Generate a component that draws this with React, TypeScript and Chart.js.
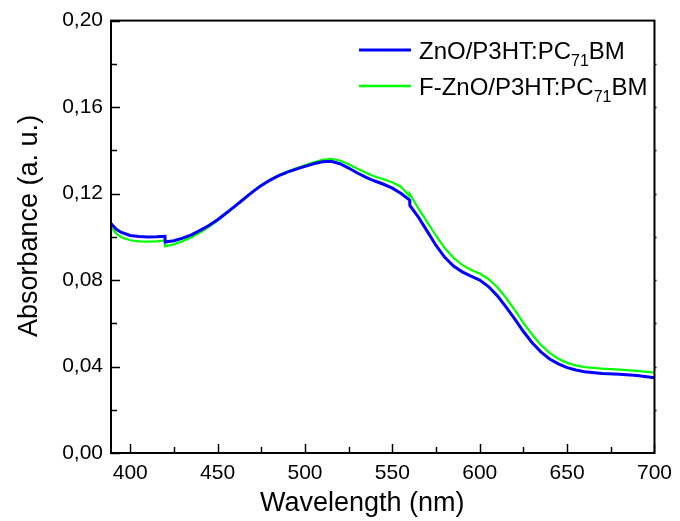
import React, { useEffect, useRef } from 'react';
import { Chart, registerables } from 'chart.js';

Chart.register(...registerables);

const wavelengths = [
  389, 392, 395, 400, 405, 410, 415, 419.9, 420, 425, 430, 435, 440, 445, 450, 455, 460, 465, 470,
  475, 480, 485, 490, 495, 500, 505, 510, 515, 520, 525, 530, 535, 540, 545, 550, 555, 559.9, 560,
  565, 570, 575, 580, 585, 590, 595, 600, 605, 610, 615, 620, 625, 630, 635, 640, 645, 650, 655,
  660, 670, 680, 690, 700,
];

const znoAbs = [
  0.1061, 0.1035, 0.102, 0.1006, 0.1001, 0.0999, 0.1, 0.1002, 0.0976, 0.0982, 0.0994, 0.1009, 0.103,
  0.1052, 0.1079, 0.111, 0.1142, 0.1175, 0.1208, 0.1237, 0.1262, 0.1283, 0.1299, 0.1313, 0.1326,
  0.1338, 0.1347, 0.1349, 0.1338, 0.1318, 0.1295, 0.1275, 0.1258, 0.1243, 0.1225, 0.12, 0.117,
  0.1145, 0.109, 0.1025, 0.096, 0.0905, 0.0865, 0.0838, 0.0818, 0.08, 0.077, 0.0728, 0.0676, 0.062,
  0.0562, 0.051, 0.0468, 0.0435, 0.0412, 0.0395, 0.0384, 0.0376, 0.0368, 0.0364, 0.0358, 0.0348,
];

const fznoAbs = [
  0.1045, 0.1015, 0.0998, 0.0984, 0.0979, 0.0978, 0.0979, 0.0983, 0.0956, 0.0965, 0.098, 0.0998,
  0.102, 0.1046, 0.1075, 0.1108, 0.1141, 0.1175, 0.1208, 0.1238, 0.1263, 0.1285, 0.1302, 0.1317,
  0.1331, 0.1345, 0.1356, 0.1361, 0.1353, 0.1336, 0.1315, 0.1296, 0.1279, 0.1266, 0.1252, 0.1232,
  0.1188, 0.1198, 0.113, 0.1068, 0.1005, 0.0948, 0.0903, 0.087, 0.0848, 0.083, 0.0805, 0.0768,
  0.0718, 0.0662, 0.0602, 0.0548, 0.05, 0.0463, 0.0436, 0.0417, 0.0405, 0.0397, 0.039, 0.0386,
  0.038, 0.0372,
];

const xTicks = [400, 450, 500, 550, 600, 650, 700];
const xMinorTicks = [425, 475, 525, 575, 625, 675];
const yTicks = [0, 0.04, 0.08, 0.12, 0.16, 0.2];
const yMinorTicks = [0.02, 0.06, 0.1, 0.14, 0.18];
const rightTicks = [0.02, 0.04, 0.06, 0.08, 0.1, 0.12, 0.14, 0.16, 0.18];

const seriesNames = ['ZnO/P3HT:PC', 'F-ZnO/P3HT:PC'];
const seriesSub = '71';
const seriesTail = 'BM';
const xTitle = 'Wavelength (nm)';
const yTitle = 'Absorbance (a. u.)';

const FONT = '"Liberation Sans", Arial, sans-serif';
const BLUE = '#0000ff';
const GREEN = '#00ff00';

const framePlugin = {
  id: 'frame',
  afterDraw(chart: any) {
    const { ctx, chartArea } = chart;
    const { left, right, top, bottom } = chartArea;
    const xs = chart.scales.x;
    const ys = chart.scales.y;
    ctx.save();
    ctx.strokeStyle = '#000';
    ctx.lineWidth = 2;
    ctx.strokeRect(left, top, right - left, bottom - top);
    ctx.lineWidth = 1.5;
    ctx.beginPath();
    xTicks.forEach((v) => {
      const px = Math.round(xs.getPixelForValue(v)) + 0.5;
      ctx.moveTo(px, bottom);
      ctx.lineTo(px, bottom - 9);
    });
    xMinorTicks.forEach((v) => {
      const px = Math.round(xs.getPixelForValue(v)) + 0.5;
      ctx.moveTo(px, bottom);
      ctx.lineTo(px, bottom - 6);
    });
    yTicks.forEach((v) => {
      const py = Math.round(ys.getPixelForValue(v)) + 0.5;
      ctx.moveTo(left, py);
      ctx.lineTo(left + 9, py);
    });
    yMinorTicks.forEach((v) => {
      const py = Math.round(ys.getPixelForValue(v)) + 0.5;
      ctx.moveTo(left, py);
      ctx.lineTo(left + 6, py);
    });
    rightTicks.forEach((v) => {
      const py = Math.round(ys.getPixelForValue(v)) + 0.5;
      ctx.moveTo(right, py);
      ctx.lineTo(right + 2, py);
    });
    ctx.stroke();

    // axis titles
    ctx.fillStyle = '#000';
    ctx.font = `27px ${FONT}`;
    ctx.textAlign = 'left';
    ctx.textBaseline = 'alphabetic';
    ctx.fillText(xTitle, 260, 511);
    ctx.save();
    ctx.translate(37, 337);
    ctx.rotate(-Math.PI / 2);
    ctx.fillText(yTitle, 0, 0);
    ctx.restore();

    // legend
    const colors = [BLUE, GREEN];
    const widths = [3, 2.5];
    const rows = [50, 86];
    const lx0 = 359;
    const lx1 = 411;
    const tx = 419;
    seriesNames.forEach((name, i) => {
      const y = rows[i];
      ctx.strokeStyle = colors[i];
      ctx.lineWidth = widths[i];
      ctx.beginPath();
      ctx.moveTo(lx0, y);
      ctx.lineTo(lx1, y);
      ctx.stroke();
      ctx.fillStyle = '#000';
      const base = y + 8.5;
      ctx.font = `24px ${FONT}`;
      ctx.fillText(name, tx, base);
      let x = tx + ctx.measureText(name).width;
      ctx.font = `16px ${FONT}`;
      ctx.fillText(seriesSub, x, base + 7);
      x += ctx.measureText(seriesSub).width;
      ctx.font = `24px ${FONT}`;
      ctx.fillText(seriesTail, x, base);
    });
    ctx.restore();
  },
};

export default function App() {
  const ref = useRef<HTMLCanvasElement | null>(null);
  useEffect(() => {
    if (!ref.current) return;
    const chart = new Chart(ref.current, {
      type: 'line',
      data: {
        datasets: [
          {
            label: seriesNames[0] + seriesSub + seriesTail,
            data: wavelengths.map((x, i) => ({ x, y: znoAbs[i] })),
            borderColor: BLUE,
            borderWidth: 3,
            pointRadius: 0,
            tension: 0,
            fill: false,
          },
          {
            label: seriesNames[1] + seriesSub + seriesTail,
            data: wavelengths.map((x, i) => ({ x, y: fznoAbs[i] })),
            borderColor: GREEN,
            borderWidth: 2.2,
            pointRadius: 0,
            tension: 0,
            fill: false,
          },
        ],
      },
      options: {
        responsive: false,
        animation: false,
        layout: { padding: { top: 20, right: 21, left: 0, bottom: 0 } },
        plugins: { legend: { display: false }, tooltip: { enabled: false } },
        scales: {
          x: {
            type: 'linear',
            min: 389,
            max: 700,
            grid: { display: false, drawTicks: false },
            border: { display: false },
            afterBuildTicks: (s: any) => {
              s.ticks = xTicks.map((v) => ({ value: v }));
            },
            afterFit: (s: any) => {
              s.height = 68;
            },
            ticks: {
              padding: 8,
              maxRotation: 0,
              color: '#000',
              font: { family: FONT, size: 21 },
              callback: (v: any) => String(v),
            },
          },
          y: {
            type: 'linear',
            min: 0,
            max: 0.2,
            grid: { display: false, drawTicks: false },
            border: { display: false },
            afterBuildTicks: (s: any) => {
              s.ticks = yTicks.map((v) => ({ value: v }));
            },
            afterFit: (s: any) => {
              s.width = 111;
            },
            ticks: {
              padding: 8,
              color: '#000',
              font: { family: FONT, size: 21 },
              callback: (v: any) => Number(v).toFixed(2).replace('.', ','),
            },
          },
        },
      },
      plugins: [framePlugin],
    } as any);
    return () => chart.destroy();
  }, []);
  return (
    <div style={{ position: 'fixed', left: 0, top: 0, width: 680, height: 521, background: '#fff' }}>
      <canvas ref={ref} width={680} height={521} />
    </div>
  );
}
